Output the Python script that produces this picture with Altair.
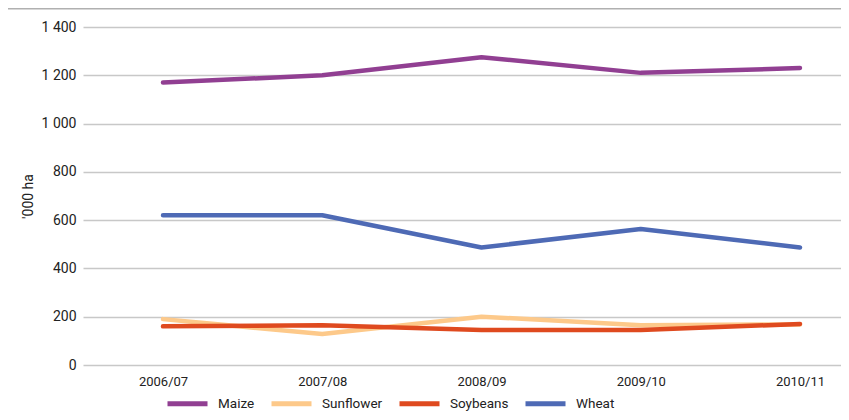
import altair as alt
import pandas as pd

seasons = ["2006/07", "2007/08", "2008/09", "2009/10", "2010/11"]
crops = ["Maize", "Sunflower", "Soybeans", "Wheat"]
maize = [1170, 1200, 1275, 1210, 1230]
sunflower = [190, 128, 200, 165, 168]
soybeans = [160, 165, 145, 145, 170]
wheat = [620, 620, 487, 563, 487]
colors = ["#913f92", "#fdc98a", "#df4a1f", "#4e6ab5"]

series = {"Maize": maize, "Sunflower": sunflower, "Soybeans": soybeans, "Wheat": wheat}
rows = []
for c in crops:
    for i, s in enumerate(seasons):
        rows.append({"season": s, "idx": i, "crop": c, "value": series[c][i], "ord": crops.index(c)})
df = pd.DataFrame(rows)

FONT = "Liberation Sans Narrow, Roboto, sans-serif"
W, H = 758, 338
season_arr = "[" + ",".join("'" + s + "'" for s in seasons) + "]"

lines = alt.Chart(df).mark_line(strokeWidth=4.5, strokeCap="round", strokeJoin="round").encode(
    x=alt.X("idx:Q", title=None,
            scale=alt.Scale(domain=[-0.5024, 4.2575], nice=False, zero=False),
            axis=alt.Axis(values=list(range(len(seasons))),
                          labelExpr=season_arr + "[datum.value]",
                          labelAngle=0, ticks=False, domain=False, grid=False,
                          labelFontSize=13, labelColor="#222", labelFont=FONT, labelPadding=10)),
    y=alt.Y("value:Q", title="'000 ha",
            scale=alt.Scale(domain=[0, 1400]),
            axis=alt.Axis(values=[0, 200, 400, 600, 800, 1000, 1200, 1400],
                          labelExpr="replace(format(datum.value, ','), ',', ' ')",
                          ticks=False, domain=False, gridColor="#c8c8c8", gridWidth=1.5,
                          labelFontSize=14, labelColor="#222", labelFont=FONT, labelPadding=7,
                          titleFont=FONT, titleFontSize=14, titleFontWeight="normal",
                          titleColor="#222", titlePadding=6)),
    color=alt.Color("crop:N", sort=crops,
                    scale=alt.Scale(domain=crops, range=colors),
                    legend=alt.Legend(title=None, orient="none", direction="horizontal",
                                      legendX=82, legendY=354, symbolType="stroke",
                                      symbolSize=1600, symbolStrokeWidth=5,
                                      labelFont=FONT, labelFontSize=13.5, labelColor="#222",
                                      labelOffset=8, columnPadding=6, padding=0)),
    order=alt.Order("ord:Q"),
)

border = alt.Chart(pd.DataFrame({"k": [0]})).mark_rule(color="#b0b0b0", strokeWidth=2).encode(
    x=alt.value(-75), x2=alt.value(W + 10), y=alt.value(-18.5)
)

chart = alt.layer(border, lines).properties(
    width=W, height=H,
    autosize=alt.AutoSizeParams(type="none"),
    padding={"left": 75, "top": 19, "right": 0, "bottom": 55},
).configure_view(stroke=None)

chart.save("out.html", embed_options={"renderer": "svg", "actions": False})
